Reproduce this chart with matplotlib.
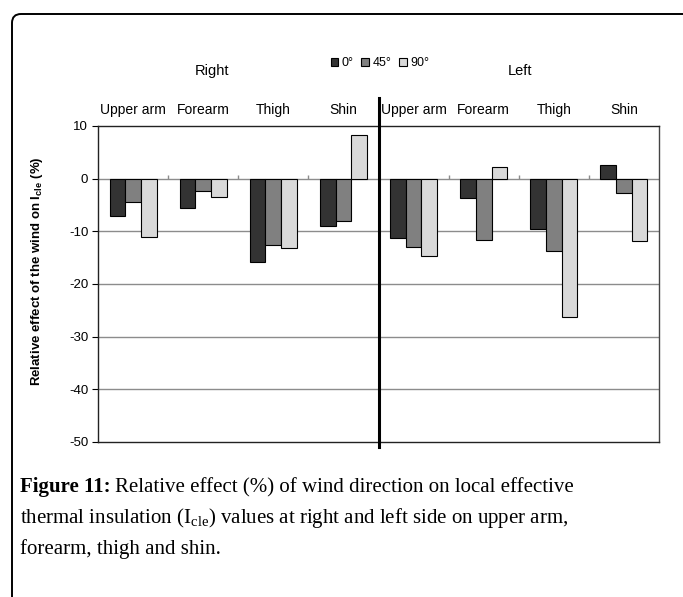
import matplotlib
matplotlib.use("Agg")
import matplotlib.pyplot as plt
import numpy as np
from matplotlib.patches import FancyBboxPatch

# Data
parts = ["Upper arm", "Forearm", "Thigh", "Shin"]
sides = ["Right", "Left"]
directions = ["0°", "45°", "90°"]
# order: right upper arm, forearm, thigh, shin, left upper arm, forearm, thigh, shin
vals_0 = [-7.0, -5.5, -15.8, -8.9, -11.3, -3.6, -9.6, 2.5]
vals_45 = [-4.5, -2.4, -12.6, -8.0, -13.0, -11.6, -13.8, -2.7]
vals_90 = [-11.0, -3.5, -13.2, 8.3, -14.7, 2.2, -26.3, -11.9]
colors = ["#333333", "#808080", "#d9d9d9"]

plt.rcParams['font.family'] = ['Liberation Sans', 'DejaVu Sans']
plt.rcParams['axes.unicode_minus'] = False

fig = plt.figure(figsize=(6.83, 5.97), dpi=100)

# outer rounded box (only top-left corner visible)
box = FancyBboxPatch((0.12, -1.0), 8.0, 5.83 + 1.0,
                     boxstyle="round,pad=0,rounding_size=0.09",
                     transform=fig.dpi_scale_trans, fill=False,
                     edgecolor="black", linewidth=1.4)
fig.patches.append(box)

ax = fig.add_axes([98 / 683, 1 - 442 / 597, 561 / 683, 316 / 597])

labels = parts * 2
x = np.arange(len(labels))
w = 0.224
bars = []
for i, (vals, c) in enumerate(zip([vals_0, vals_45, vals_90], colors)):
    b = ax.bar(x + (i - 1) * w, vals, w, color=c, edgecolor="black",
               linewidth=0.8, label=directions[i], zorder=3)
    bars.append(b)

ax.set_xlim(-0.5, len(labels) - 0.5)
ax.set_ylim(-50, 10)
ax.set_yticks(np.arange(-50, 11, 10))
ax.tick_params(axis="y", direction="out", length=4, width=0.8, labelsize=9.5,
               pad=3)
ax.set_xticks([])

for yv in [-10, -20, -30, -40]:
    ax.axhline(yv, color="#8c8c8c", linewidth=1.0, zorder=1)
ax.axhline(0, color="#8c8c8c", linewidth=1.0, zorder=2)

# small category ticks on the zero line
bounds = [b for b in np.arange(0.5, len(labels) - 1, 1.0) if b != 3.5]
ax.vlines(bounds, 0, 0.75, color="#8c8c8c", linewidth=1.0, zorder=2)

for s in ["left", "top", "bottom"]:
    ax.spines[s].set_color("#222222")
    ax.spines[s].set_linewidth(1.0)
ax.spines["right"].set_color("#444444")
ax.spines["right"].set_linewidth(1.0)

# divider between right and left side
ax.axvline(3.5, ymin=-0.016, ymax=1.089, color="black", linewidth=2.2,
           clip_on=False, zorder=5)

for xi, lab in zip(x, labels):
    ax.text(xi, 1.05, lab, transform=ax.get_xaxis_transform(),
            ha="center", va="center", fontsize=10)

fig.text(212 / 683, 1 - 71 / 597, sides[0], ha="center", va="center",
         fontsize=10.5)
fig.text(520 / 683, 1 - 71 / 597, sides[1], ha="center", va="center",
         fontsize=10.5)

fig.text(37 / 683, 1 - 271 / 597,
         r"Relative effect of the wind on I$\mathregular{_{cle}}$ (%)",
         rotation=90, ha="center", va="center", fontsize=9.5,
         fontweight="bold")

fig.legend(handles=bars, labels=directions, loc="center",
           bbox_to_anchor=(380 / 683, 1 - 63 / 597), ncol=3, frameon=False,
           fontsize=9, handlelength=0.6, handleheight=0.6,
           handletextpad=0.3, columnspacing=0.6, borderpad=0)

# caption
serif = ['Liberation Serif', 'DejaVu Serif']
cap_y = [1 - 492 / 597, 1 - 523 / 597, 1 - 554 / 597]
t1 = fig.text(20 / 683, cap_y[0], "Figure 11:", family=serif,
              fontweight="bold", fontsize=15, va="baseline")
fig.canvas.draw()
bb = t1.get_window_extent()
fig.text(bb.x1 / fig.bbox.width + 0.006, cap_y[0],
         "Relative effect (%) of wind direction on local effective",
         family=serif, fontsize=15, va="baseline")
fig.text(20 / 683, cap_y[1],
         r"thermal insulation (I$\mathregular{_{cle}}$) values at right and left side on upper arm,",
         family=serif, fontsize=15, va="baseline")
fig.text(20 / 683, cap_y[2], "forearm, thigh and shin.",
         family=serif, fontsize=15, va="baseline")

fig.savefig("out.png", dpi=100)
